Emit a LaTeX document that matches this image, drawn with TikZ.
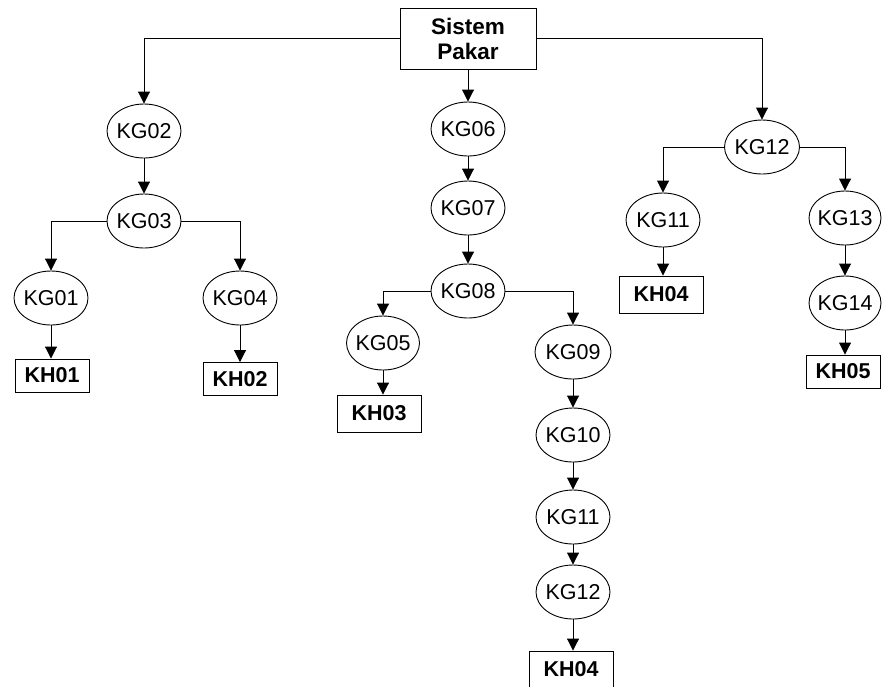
\documentclass[tikz,border=0pt]{standalone}
\usepackage{fontspec}
\setmainfont{Liberation Sans}
\usetikzlibrary{shapes.geometric,arrows.meta}
\begin{document}
\begin{tikzpicture}[x=1pt,y=-1pt,
  every node/.style={font=\fontsize{21.5}{25}\selectfont},
  kg/.style={draw,ellipse,line width=0.9pt,minimum width=74pt,minimum height=54pt,inner xsep=-3pt,inner ysep=0pt},
  kh/.style={draw,rectangle,line width=0.9pt,minimum width=74pt,minimum height=33pt,inner sep=0pt,font=\fontsize{21.5}{25}\selectfont\bfseries},
  khw/.style={kh,minimum width=84pt,minimum height=37pt},
  con/.style={draw,line width=0.9pt,-{Triangle[width=12pt,length=12pt]}}]
\useasboundingbox (0,0) rectangle (882,686);
\clip (0,0) rectangle (882,686);
% root
\node[draw,line width=0.9pt,minimum width=136pt,minimum height=61pt,inner sep=0pt,align=center,font=\fontsize{22.5}{25}\selectfont\bfseries] (sp) at (468,38.5) {Sistem\\Pakar};
% left branch
\node[kg] (kg02) at (144,131) {KG02};
\node[kg] (kg03) at (144,221) {KG03};
\node[kg] (kg01) at (51,298) {KG01};
\node[kg] (kg04) at (240,298) {KG04};
\node[kh] (kh01) at (52,375.5) {KH01};
\node[kh] (kh02) at (240,379) {KH02};
% middle branch
\node[kg] (kg06) at (468,129) {KG06};
\node[kg] (kg07) at (468,208) {KG07};
\node[kg] (kg08) at (468,291) {KG08};
\node[kg,minimum width=73pt] (kg05) at (383,343) {KG05};
\node[khw] (kh03) at (379,413.5) {KH03};
\node[kg,minimum width=76pt] (kg09) at (573,352) {KG09};
\node[kg] (kg10) at (573,435) {KG10};
\node[kg] (kg11b) at (573,517) {KG11};
\node[kg] (kg12b) at (573,592) {KG12};
\node[khw] (kh04b) at (571,669.5) {KH04};
% right branch
\node[kg,minimum width=75pt] (kg12) at (762,147) {KG12};
\node[kg] (kg11) at (663,220) {KG11};
\node[khw] (kh04) at (661,294.5) {KH04};
\node[kg,minimum width=72pt] (kg13) at (845,218) {KG13};
\node[kg,minimum width=72pt] (kg14) at (845,303) {KG14};
\node[kh] (kh05) at (843,371.5) {KH05};
% connectors
\draw[con] (sp.west) -| (kg02.north);
\draw[con] (sp.south) -- (kg06.north);
\draw[con] (sp.east) -| (kg12.north);
\draw[con] (kg02) -- (kg03);
\draw[con] (kg03.west) -| (kg01.north);
\draw[con] (kg03.east) -| (kg04.north);
\draw[con] (kg01.south) -- (kg01.south |- kh01.north);
\draw[con] (kg04.south) -- (kg04.south |- kh02.north);
\draw[con] (kg06) -- (kg07);
\draw[con] (kg07) -- (kg08);
\draw[con] (kg08.west) -| (kg05.north);
\draw[con] (kg08.east) -| (kg09.north);
\draw[con] (kg05.south) -- (kg05.south |- kh03.north);
\draw[con] (kg09) -- (kg10);
\draw[con] (kg10) -- (kg11b);
\draw[con] (kg11b) -- (kg12b);
\draw[con] (kg12b.south) -- (kg12b.south |- kh04b.north);
\draw[con] (kg12.west) -| (kg11.north);
\draw[con] (kg12.east) -| (kg13.north);
\draw[con] (kg11.south) -- (kg11.south |- kh04.north);
\draw[con] (kg13) -- (kg14);
\draw[con] (kg14.south) -- (kg14.south |- kh05.north);
\end{tikzpicture}
\end{document}
